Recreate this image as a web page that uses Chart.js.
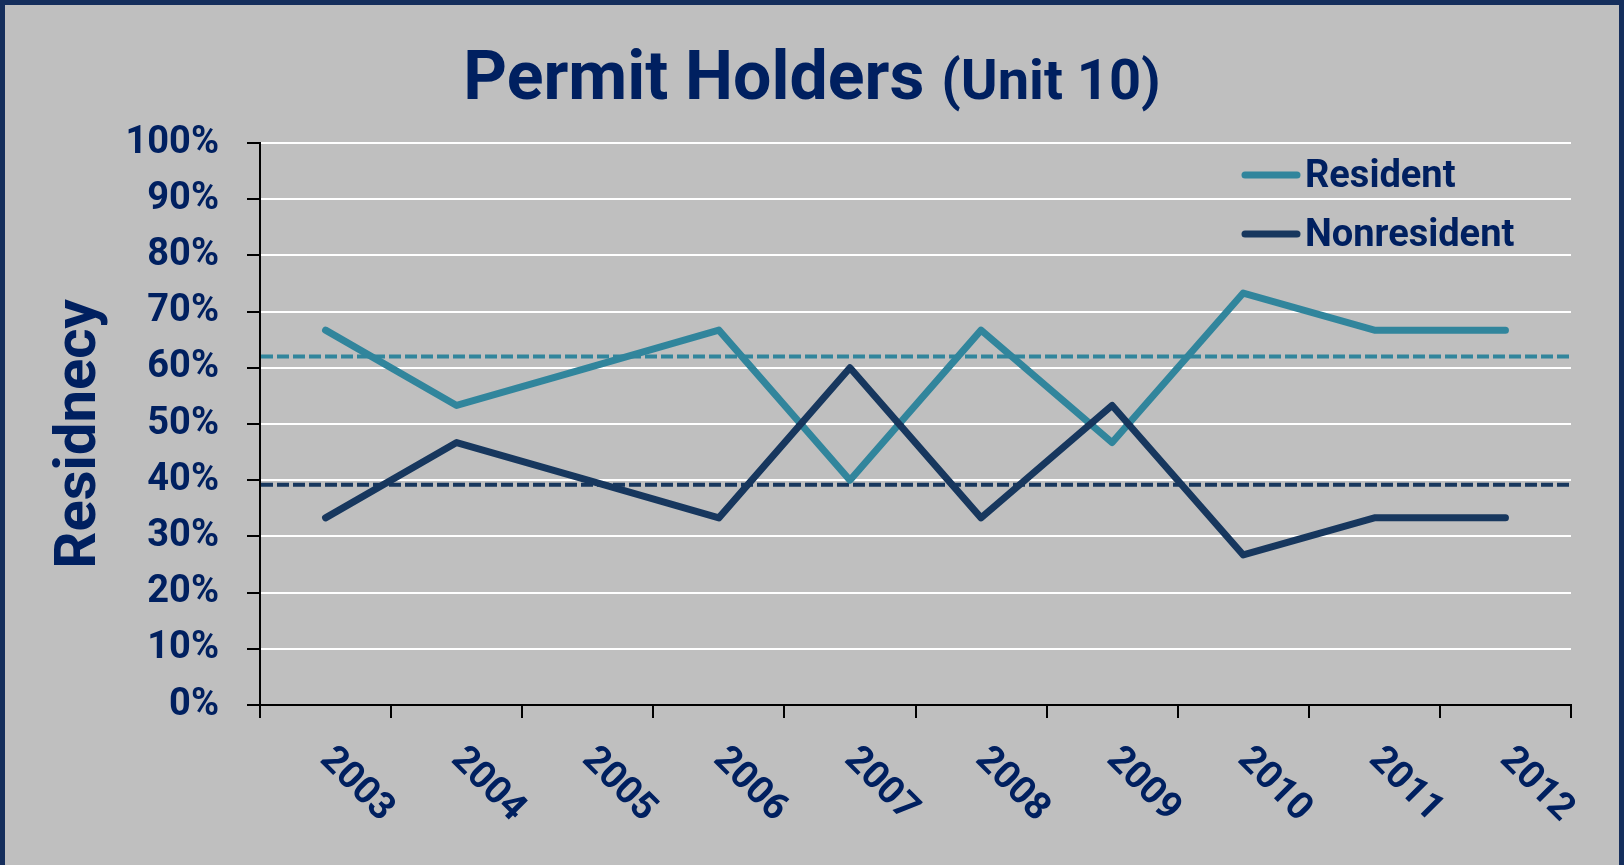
<!DOCTYPE html>
<html>
<head>
<meta charset="utf-8">
<title>Permit Holders (Unit 10)</title>
<script src="https://cdn.jsdelivr.net/npm/chart.js@4.4.1/dist/chart.umd.min.js"></script>
<style>
  html, body { margin: 0; padding: 0; background: #bfbfbf; }
  canvas { display: block; }
</style>
</head>
<body>
<canvas id="permitChart" width="1624" height="865"></canvas>
<script>
// data
const years = ['2003', '2004', '2005', '2006', '2007', '2008', '2009', '2010', '2011', '2012'];
const resident = [66.7, 53.3, 60, 66.7, 40, 66.7, 46.7, 73.3, 66.7, 66.7];
const nonresident = [33.3, 46.7, 40, 33.3, 60, 33.3, 53.3, 26.7, 33.3, 33.3];
const residentAvg = 62.0;
const nonresidentAvg = 39.2;

const navy = '#002060';
const teal = '#31859c';
const darkBlue = '#17375e';

Chart.defaults.font.family = 'Roboto';
Chart.defaults.font.weight = 'bold';

// background + frame
const frame = {
  id: 'frame',
  beforeDraw(chart) {
    const {ctx, width, height} = chart;
    ctx.save();
    ctx.fillStyle = '#bfbfbf';
    ctx.fillRect(0, 0, width, height);
    ctx.fillStyle = '#152e5c';
    ctx.fillRect(0, 0, width, 5);
    ctx.fillRect(0, 0, 5, height);
    ctx.fillRect(width - 5, 0, 5, height);
    ctx.restore();
  }
};

// dashed average lines across the whole plot
const avgLines = {
  id: 'avgLines',
  beforeDatasetsDraw(chart) {
    const {ctx, chartArea, scales: {y}} = chart;
    ctx.save();
    ctx.lineWidth = 4;
    ctx.setLineDash([12, 4]);
    [[residentAvg, teal], [nonresidentAvg, darkBlue]].forEach(([v, c]) => {
      const py = y.getPixelForValue(v);
      ctx.strokeStyle = c;
      ctx.beginPath();
      ctx.moveTo(chartArea.left + 1, py);
      ctx.lineTo(chartArea.right, py);
      ctx.stroke();
    });
    ctx.restore();
  }
};

// title, axis title, legend and slanted year labels
const extras = {
  id: 'extras',
  afterDraw(chart) {
    const {ctx, width} = chart;
    ctx.save();
    ctx.fillStyle = navy;

    // title in two sizes
    ctx.textBaseline = 'alphabetic';
    ctx.textAlign = 'left';
    ctx.font = 'bold 68px Roboto';
    const t1 = 'Permit Holders ';
    const w1 = ctx.measureText(t1).width;
    ctx.font = 'bold 56px Roboto';
    const t2 = '(Unit 10)';
    const w2 = ctx.measureText(t2).width;
    let tx = width / 2 - (w1 + w2) / 2;
    ctx.font = 'bold 68px Roboto';
    ctx.fillText(t1, tx, 99);
    ctx.font = 'bold 56px Roboto';
    ctx.fillText(t2, tx + w1, 99);

    // y axis title
    ctx.save();
    ctx.font = 'bold 58px Roboto';
    ctx.textAlign = 'center';
    ctx.textBaseline = 'middle';
    ctx.translate(80, 434);
    ctx.rotate(-Math.PI / 2);
    ctx.fillText('Residnecy', 0, 0);
    ctx.restore();

    // legend
    ctx.font = 'bold 38px Roboto';
    chart.data.datasets.forEach((ds, i) => {
      const ly = 175 + i * 59;
      ctx.strokeStyle = ds.borderColor;
      ctx.lineWidth = 7;
      ctx.lineCap = 'round';
      ctx.beginPath();
      ctx.moveTo(1245, ly);
      ctx.lineTo(1297, ly);
      ctx.stroke();
      ctx.fillText(ds.label, 1305, ly + 12);
    });

    // x labels rotated clockwise
    const xs = chart.scales.x;
    ctx.textBaseline = 'middle';
    years.forEach((yr, i) => {
      ctx.save();
      ctx.translate(xs.getPixelForValue(i), 754);
      ctx.rotate(Math.PI / 4);
      ctx.fillText(yr, 0, 0);
      ctx.restore();
    });
    ctx.restore();
  }
};

new Chart(document.getElementById('permitChart'), {
  type: 'line',
  data: {
    labels: years,
    datasets: [
      { label: 'Resident', data: resident, borderColor: teal, order: 1 },
      { label: 'Nonresident', data: nonresident, borderColor: darkBlue, order: 0 }
    ]
  },
  options: {
    responsive: false,
    animation: false,
    devicePixelRatio: 1,
    layout: { padding: { top: 143, right: 53, left: 0, bottom: 0 } },
    elements: {
      line: { borderWidth: 7, tension: 0, borderJoinStyle: 'round', borderCapStyle: 'round' },
      point: { radius: 0, hoverRadius: 0 }
    },
    plugins: { legend: { display: false }, tooltip: { enabled: false } },
    scales: {
      x: {
        offset: true,
        grid: { offset: true, drawOnChartArea: false, tickColor: '#000', tickLength: 13, lineWidth: 2 },
        border: { color: '#000', width: 2 },
        ticks: { display: false },
        afterFit: s => { s.height = 160; }
      },
      y: {
        min: 0,
        max: 100,
        ticks: {
          stepSize: 10,
          padding: 28,
          color: navy,
          font: { size: 38, weight: 'bold' },
          callback: v => v + '%'
        },
        grid: {
          color: c => c.tick && c.tick.value === 0 ? 'rgba(0,0,0,0)' : '#ffffff',
          tickColor: '#000',
          tickLength: 13,
          lineWidth: 2
        },
        border: { color: '#000', width: 2 },
        afterFit: s => { s.width = 260; }
      }
    }
  },
  plugins: [frame, avgLines, extras]
});
</script>
</body>
</html>
